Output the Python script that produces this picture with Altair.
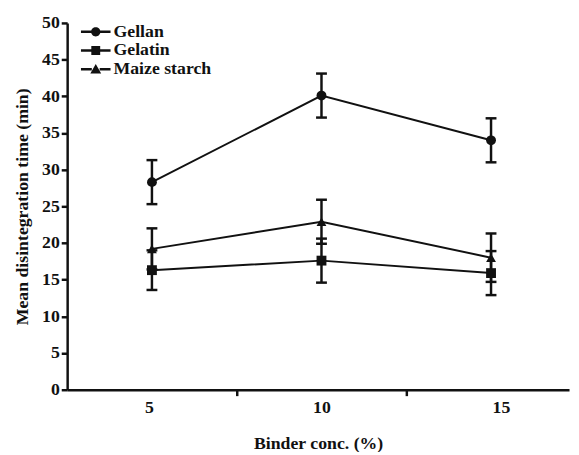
import altair as alt
import pandas as pd

conc = [5, 10, 15]
series = ["Gellan", "Gelatin", "Maize starch"]
gellan = [28.3, 40.1, 34.0]
gellan_err = [3.0, 3.0, 3.0]
gelatin = [16.3, 17.6, 15.9]
gelatin_err = [2.7, 3.0, 3.0]
maize = [19.2, 22.9, 18.0]
maize_err = [2.8, 3.0, 3.3]
x_tick_values = [5, 7.5, 10, 12.5, 15]
y_tick_values = [0, 5, 10, 15, 20, 25, 30, 35, 40, 45, 50]

rows = []
for name, vals, errs in zip(series, [gellan, gelatin, maize], [gellan_err, gelatin_err, maize_err]):
    for c, v, e in zip(conc, vals, errs):
        rows.append({"series": name, "conc": c, "mean": v, "lo": v - e, "hi": v + e})
df = pd.DataFrame(rows)

FONT = "Liberation Serif"
INK = "#111111"

x_axis = alt.Axis(
    values=x_tick_values,
    labelExpr="datum.value % 5 == 0 ? '' + datum.value : ''",
    tickOpacity={"condition": {"test": "datum.value % 5 == 0", "value": 0}, "value": 1},
    labelOffset={"condition": [{"test": "datum.value == 5", "value": -3},
                               {"test": "datum.value == 15", "value": 10}], "value": 0},
    title="Binder conc. (%)", grid=False, tickSize=6, labelPadding=3, titlePadding=19,
)
y_axis = alt.Axis(
    values=y_tick_values, title="Mean disintegration time (min)", grid=False,
    tickSize=6, labelPadding=2, titlePadding=10,
)
x_enc = alt.X("conc:Q", scale=alt.Scale(domain=[2.5, 17.3], nice=False, zero=False), axis=x_axis)
y_scale = alt.Scale(domain=[0, 50], nice=False)

base = alt.Chart(df)

lines = base.mark_line(color=INK, strokeWidth=2).encode(
    x=x_enc, y=alt.Y("mean:Q", scale=y_scale, axis=y_axis), detail="series:N"
)
bars = base.mark_rule(color=INK, strokeWidth=2.5).encode(
    x=x_enc, y=alt.Y("lo:Q", scale=y_scale, axis=y_axis), y2="hi:Q"
)
caps_lo = base.mark_tick(orient="horizontal", size=11, thickness=2.5, color=INK, opacity=1).encode(
    x=x_enc, y=alt.Y("lo:Q", scale=y_scale, axis=y_axis)
)
caps_hi = base.mark_tick(orient="horizontal", size=11, thickness=2.5, color=INK, opacity=1).encode(
    x=x_enc, y=alt.Y("hi:Q", scale=y_scale, axis=y_axis)
)
points = base.mark_point(filled=True, opacity=1, size=100, color=INK).encode(
    x=x_enc, y=alt.Y("mean:Q", scale=y_scale, axis=y_axis),
    shape=alt.Shape("series:N", scale=alt.Scale(domain=series, range=["circle", "square", "triangle-up"]), legend=None),
)

# custom legend symbols (filled line segments + marker); path units are scaled by sqrt(size)/2
seg = "M-3.0,-0.25H-0.8V0.25H-3.0ZM0.8,-0.25H3.0V0.25H0.8Z"
legend_paths = [
    seg + "M0.95,0A0.95,0.95,0,1,1,-0.95,0A0.95,0.95,0,1,1,0.95,0Z",
    seg + "M-0.9,-0.9H0.9V0.9H-0.9Z",
    seg + "M0,-1.05L1.1,0.85H-1.1Z",
]
legend_layer = base.transform_filter("false").mark_point(
    filled=True, opacity=1, size=100, color=INK
).encode(
    x=x_enc, y=alt.Y("mean:Q", scale=y_scale, axis=y_axis),
    shape=alt.Shape(
        "series:N",
        scale=alt.Scale(domain=series, range=legend_paths),
        legend=alt.Legend(
            title=None, orient="none", legendX=20, legendY=0, padding=0,
            symbolSize=100, labelOffset=9, rowPadding=1,
            labelFont=FONT, labelFontSize=18, labelFontWeight="bold", labelColor=INK,
            symbolFillColor=INK, symbolOpacity=1,
        ),
    ),
)

chart = (
    alt.layer(lines, bars, caps_lo, caps_hi, points, legend_layer)
    .resolve_scale(shape="independent")
    .properties(
        width=509, height=372,
        autosize=alt.AutoSizeParams(type="none"),
        padding={"left": 60, "top": 12, "right": 2, "bottom": 60},
        background="white",
    )
    .configure_view(stroke=None)
    .configure_axis(
        domainColor=INK, domainWidth=2.5, tickColor=INK, tickWidth=2.5,
        labelFont=FONT, labelFontSize=18, labelFontWeight="bold", labelColor=INK,
        titleFont=FONT, titleFontSize=18, titleFontWeight="bold", titleColor=INK,
    )
)

chart.save("out.html", embed_options={"renderer": "svg", "actions": False})
